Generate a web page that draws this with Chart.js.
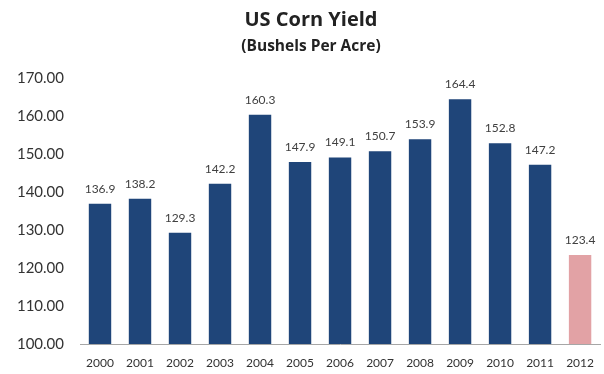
<!DOCTYPE html>
<html lang="en">
<head>
<meta charset="UTF-8">
<title>US Corn Yield</title>
<style>
    html, body { margin: 0; padding: 0; background: #fff; overflow: hidden; }
    .wrap { width: 606px; height: 374px; }
</style>
</head>
<body>

<div class="wrap">
    <canvas id="cornChart"></canvas>
</div>

<script src="https://cdn.jsdelivr.net/npm/chart.js@4/dist/chart.umd.min.js"></script>
<script>
    var years = ['2000', '2001', '2002', '2003', '2004', '2005', '2006',
                 '2007', '2008', '2009', '2010', '2011', '2012'];
    var yields = [136.9, 138.2, 129.3, 142.2, 160.3, 147.9, 149.1,
                  150.7, 153.9, 164.4, 152.8, 147.2, 123.4];
    var yTicks = [100, 110, 120, 130, 140, 150, 160, 170];

    var navy = '#1f4579';
    var pink = '#e2a2a5';
    var font = 'Lato, "Open Sans", sans-serif';
    var titleFont = '"Open Sans", Lato, sans-serif';

    // last year is drawn in a lighter colour
    var barColors = years.map(function (y, i) {
        return i === years.length - 1 ? pink : navy;
    });

    // value printed above each bar
    var valueLabels = {
        id: 'valueLabels',
        afterDatasetsDraw: function (chart) {
            var ctx = chart.ctx;
            var meta = chart.getDatasetMeta(0);
            ctx.save();
            ctx.font = '12px ' + font;
            ctx.fillStyle = '#404040';
            ctx.textAlign = 'center';
            ctx.textBaseline = 'bottom';
            meta.data.forEach(function (bar, i) {
                ctx.fillText(yields[i].toFixed(1), bar.x, bar.y - 9);
            });
            ctx.restore();
        }
    };

    var ctx = document.getElementById('cornChart').getContext('2d');
    var chart = new Chart(ctx, {
        type: 'bar',
        data: {
            labels: years,
            datasets: [{
                data: yields,
                backgroundColor: barColors,
                borderWidth: 0,
                categoryPercentage: 1,
                barPercentage: 0.56
            }]
        },
        options: {
            responsive: true,
            maintainAspectRatio: false,
            animation: false,
            layout: { padding: { left: 16, right: 0, top: 0, bottom: 0 } },
            plugins: {
                legend: { display: false },
                tooltip: { enabled: false },
                title: {
                    display: true,
                    text: 'US Corn Yield',
                    color: '#222',
                    font: { family: titleFont, size: 20, weight: 'bold', lineHeight: 1.2 },
                    padding: { top: 8, bottom: 3 }
                },
                subtitle: {
                    display: true,
                    text: '(Bushels Per Acre)',
                    color: '#222',
                    font: { family: titleFont, size: 15.5, weight: 'bold', lineHeight: 1.2 },
                    padding: { top: 2, bottom: 22.4 }
                }
            },
            scales: {
                x: {
                    grid: { display: false, drawTicks: false },
                    border: { display: true, color: '#a6a6a6', width: 1 },
                    ticks: {
                        color: '#333',
                        font: { family: font, size: 12 },
                        padding: 12,
                        maxRotation: 0,
                        autoSkip: false
                    },
                    afterFit: function (scale) { scale.height = 30; }
                },
                y: {
                    min: 100,
                    max: 170,
                    grid: { display: false, drawTicks: false },
                    border: { display: false },
                    afterBuildTicks: function (scale) {
                        scale.ticks = yTicks.map(function (v) { return { value: v }; });
                    },
                    ticks: {
                        color: '#333',
                        font: { family: font, size: 15 },
                        padding: 16,
                        callback: function (v) { return Number(v).toFixed(2); }
                    },
                    afterFit: function (scale) { scale.width = 64; }
                }
            }
        },
        plugins: [valueLabels]
    });
</script>

</body>
</html>
